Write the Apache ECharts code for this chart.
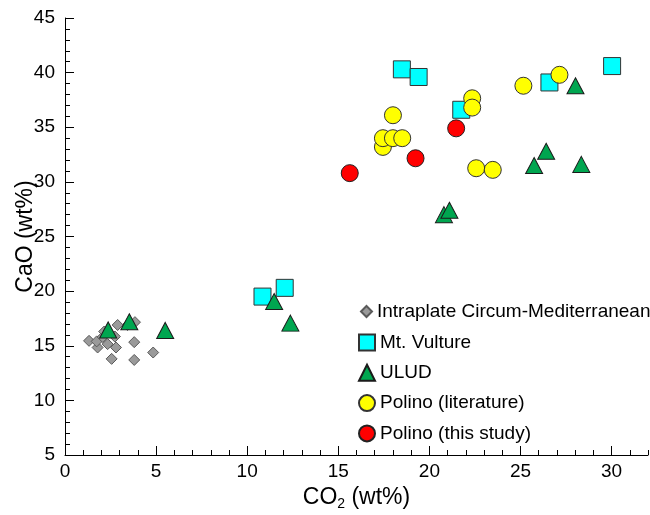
<!DOCTYPE html>
<html>
<head>
<meta charset="utf-8">
<script src="https://cdn.jsdelivr.net/npm/echarts@6/dist/echarts.min.js"></script>
<style>html,body{margin:0;padding:0;background:#fff;}#c{width:650px;height:515px;}</style>
</head>
<body>
<div id="c"></div>
<script>
// CO2 (wt%), CaO (wt%)
var intraplate = [
  [1.32,15.45],[1.79,14.84],[1.74,15.4],[2.07,15.8],[2.34,15.15],[2.8,14.84],
  [2.89,16.9],[2.56,13.8],[3.8,15.33],[3.8,13.7],[4.84,14.38],[3.84,17.16],
  [2.74,15.84],[2.15,16.3],[3.43,16.9]
];
var vulture = [
  [10.84,19.5],[12.06,20.3],[18.49,40.3],[19.41,39.6],[21.75,36.6],[26.59,39.1],[30.03,40.6]
];
var ulud = [
  [2.37,16.45],[3.53,17.2],[5.5,16.4],[11.48,19.05],[12.37,17.07],[20.8,27.0],[21.1,27.4],
  [25.75,31.5],[26.41,32.8],[28.02,38.8],[28.34,31.6]
];
var polinoLit = [
  [17.45,33.2],[17.45,34.0],[18.0,34.0],[18.51,34.0],[18.0,36.1],[22.35,37.65],[22.35,36.8],
  [22.57,31.25],[23.48,31.1],[25.16,38.8],[27.14,39.8]
];
var polinoStudy = [
  [15.63,30.8],[19.24,32.16],[21.47,34.9]
];
var xMajorTicks = [0,5,10,15,20,25,30];
var xMinorTicks = [0,1,2,3,4,5,6,7,8,9,10,11,12,13,14,15,16,17,18,19,20,21,22,23,24,25,26,27,28,29,30,31,32];

var FONT = '"Liberation Sans", Arial, sans-serif';
var chart = echarts.init(document.getElementById('c'));
chart.setOption({
  animation: false,
  backgroundColor: '#fff',
  textStyle: {fontFamily: FONT, color: '#000'},
  grid: {left: 65, right: 2, top: 18, bottom: 60, outerBoundsMode: 'none', containLabel: false},
  legend: [{
    data: ['Intraplate Circum-Mediterranean'],
    orient: 'vertical', left: 355, top: 297,
    itemWidth: 11, itemHeight: 11, itemGap: 11, itemTextGap: 7,
    textStyle: {fontSize: 19, lineHeight: 19, color: '#000', fontFamily: FONT}
  }, {
    data: ['Mt. Vulture','ULUD','Polino (literature)','Polino (this study)'],
    orient: 'vertical', left: 353, top: 328,
    itemWidth: 16, itemHeight: 16, itemGap: 11.3, itemTextGap: 4,
    textStyle: {fontSize: 19, lineHeight: 19, color: '#000', fontFamily: FONT}
  }],
  xAxis: [{
    type: 'value', min: 0, max: 32, interval: 5,
    name: '{a|CO}{b|2}{a| (wt%)}', nameLocation: 'middle', nameGap: 30,
    nameTextStyle: {rich: {
      a: {fontSize: 23, fontFamily: FONT, color: '#000', lineHeight: 26, verticalAlign: 'middle'},
      b: {fontSize: 14, fontFamily: FONT, color: '#000', lineHeight: 14, verticalAlign: 'bottom', padding: [10,0,0,0]}
    }},
    axisLine: {show: true, lineStyle: {color: '#000', width: 1}},
    axisTick: {show: true, inside: true, length: 9, customValues: xMajorTicks, lineStyle: {color: '#000'}},
    axisLabel: {show: true, fontSize: 19, color: '#000', margin: 7, customValues: xMajorTicks, fontFamily: FONT},
    splitLine: {show: false}
  }, {
    type: 'value', min: 0, max: 32, interval: 1, position: 'bottom',
    axisLine: {show: false},
    axisTick: {show: true, inside: true, length: 5, customValues: xMinorTicks, lineStyle: {color: '#000'}},
    axisLabel: {show: false},
    splitLine: {show: false}
  }],
  yAxis: {
    type: 'value', min: 5, max: 45, interval: 5,
    name: 'CaO (wt%)', nameLocation: 'middle', nameGap: 28, nameMoveOverlap: false,
    nameTextStyle: {fontSize: 23, color: '#000', fontFamily: FONT},
    axisLine: {show: true, lineStyle: {color: '#000', width: 1}},
    axisTick: {show: true, inside: true, length: 9, lineStyle: {color: '#000'}},
    minorTick: {show: true, splitNumber: 5, length: 5, lineStyle: {color: '#000'}},
    axisLabel: {fontSize: 19, color: '#000', margin: 10, fontFamily: FONT},
    splitLine: {show: false}
  },
  series: [{
    name: 'Intraplate Circum-Mediterranean', type: 'scatter', data: intraplate,
    symbol: 'diamond', symbolSize: 11, z: 1,
    itemStyle: {color: '#9a9a9a', borderColor: '#5a5a5a', borderWidth: 1, opacity: 1}
  }, {
    name: 'Mt. Vulture', type: 'scatter', data: vulture,
    symbol: 'rect', symbolSize: 17, z: 2,
    itemStyle: {color: '#00ffff', borderColor: '#333', borderWidth: 1, opacity: 1}
  }, {
    name: 'ULUD', type: 'scatter', data: ulud,
    symbol: 'triangle', symbolSize: [17, 16], z: 3,
    itemStyle: {color: '#00a650', borderColor: '#1a1a1a', borderWidth: 1, opacity: 1}
  }, {
    name: 'Polino (literature)', type: 'scatter', data: polinoLit,
    symbol: 'circle', symbolSize: 17, z: 4,
    itemStyle: {color: '#ffff00', borderColor: '#333', borderWidth: 1, opacity: 1}
  }, {
    name: 'Polino (this study)', type: 'scatter', data: polinoStudy,
    symbol: 'circle', symbolSize: 17, z: 5,
    itemStyle: {color: '#ff0000', borderColor: '#222', borderWidth: 1, opacity: 1}
  }]
});
</script>
</body>
</html>
